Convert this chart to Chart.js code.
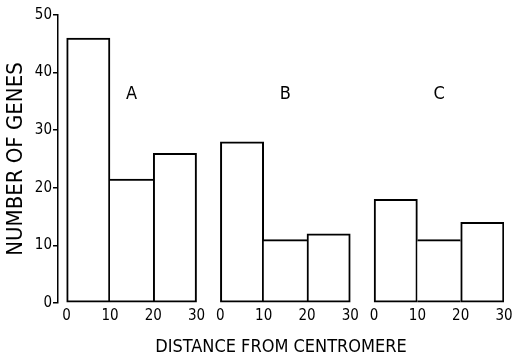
<!DOCTYPE html>
<html>
<head>
<meta charset="utf-8">
<script src="https://cdn.jsdelivr.net/npm/chart.js@4"></script>
<style>
  html, body { margin: 0; padding: 0; background: #fff; }
  #wrap { width: 513px; height: 357px; }
</style>
</head>
<body>
<div id="wrap"><canvas id="genesChart" width="513" height="357"></canvas></div>
<script>
// three histograms of gene counts by distance from the centromere
const panelNames = ['A', 'B', 'C'];
const binStarts = [0, 10, 20];
const binWidth = 10;
const xTickValues = [0, 10, 20, 30];
const xTickLabels = ['0', '10', '20', '30'];
const yTickValues = [0, 10, 20, 30, 40, 50];
const genesA = [46, 21.5, 26];
const genesB = [28, 11, 12];
const genesC = [18, 11, 14];

// layout: where each histogram sits on the shared x scale
const panelShift = [0, 35.5, 71];
const panelLabelAt = { x: 15, y: 36.3 };
const FONT = "'Liberation Sans Narrow', 'DejaVu Sans Condensed', 'Roboto Condensed', 'Liberation Sans', sans-serif";
const LINE = 2;

const panelCounts = [genesA, genesB, genesC];

// a shared edge between two bars is drawn once, by the taller bar
function edgeWidths(ctx) {
  const counts = panelCounts[ctx.datasetIndex];
  const i = ctx.dataIndex;
  const last = counts.length - 1;
  return {
    top: LINE,
    bottom: LINE,
    left: (i === 0 || counts[i] > counts[i - 1]) ? LINE : 0,
    right: (i === last || counts[i] >= counts[i + 1]) ? LINE : 0
  };
}

const datasets = panelCounts.map((counts, p) => ({
  label: panelNames[p],
  xAxisID: 'xBars',
  data: binStarts.map((s, i) => ({ x: panelShift[p] + s + binWidth / 2, y: counts[i] })),
  backgroundColor: '#fff',
  borderColor: '#000',
  borderSkipped: false,
  borderWidth: edgeWidths,
  grouped: false,
  barPercentage: 1,
  categoryPercentage: 1
}));

// tick values along the shared scale, e.g. 35.5 -> '0'
const xTicks = [];
const xTickText = {};
panelShift.forEach(shift => {
  xTickValues.forEach((v, i) => {
    xTicks.push(shift + v);
    xTickText[shift + v] = xTickLabels[i];
  });
});

const panelLabels = {
  id: 'panelLabels',
  afterDatasetsDraw(chart) {
    const { ctx, scales } = chart;
    ctx.save();
    ctx.font = '18px ' + FONT;
    ctx.fillStyle = '#000';
    ctx.textAlign = 'center';
    ctx.textBaseline = 'middle';
    panelNames.forEach((name, i) => {
      ctx.fillText(name,
        scales.xBars.getPixelForValue(panelShift[i] + panelLabelAt.x),
        scales.y.getPixelForValue(panelLabelAt.y));
    });
    ctx.restore();
  }
};

new Chart(document.getElementById('genesChart'), {
  type: 'bar',
  data: { datasets },
  plugins: [panelLabels],
  options: {
    responsive: false,
    animation: false,
    devicePixelRatio: 1,
    layout: { padding: { top: 15, right: 9, left: 0, bottom: 0 } },
    plugins: {
      legend: { display: false },
      tooltip: { enabled: false }
    },
    scales: {
      xBars: {
        type: 'linear',
        position: 'bottom',
        display: false,
        offset: false,
        min: -2,
        max: 101,
        afterBuildTicks: axis => { axis.ticks = []; }
      },
      x: {
        type: 'linear',
        position: 'bottom',
        offset: false,
        min: -2,
        max: 101,
        afterBuildTicks: axis => { axis.ticks = xTicks.map(v => ({ value: v })); },
        afterFit: axis => {
          axis.height = 54;
          // let the last "30" hang into the right margin
          axis.paddingLeft = 0;
          axis.paddingRight = 0;
        },
        grid: { display: false, drawTicks: false, offset: false },
        border: { display: false },
        ticks: {
          autoSkip: false,
          maxRotation: 0,
          padding: 4,
          color: '#000',
          font: { family: FONT, size: 15 },
          callback: value => xTickText[value]
        },
        title: {
          display: true,
          text: 'DISTANCE FROM CENTROMERE',
          color: '#000',
          font: { family: FONT, size: 18, lineHeight: 1 },
          padding: { top: 0, bottom: 1 }
        }
      },
      y: {
        min: 0,
        max: 50,
        afterBuildTicks: axis => { axis.ticks = yTickValues.map(v => ({ value: v })); },
        afterFit: axis => { axis.width = 58; },
        grid: { drawOnChartArea: false, drawTicks: true, tickLength: 5, color: '#000', lineWidth: 1.5 },
        border: { display: true, color: '#000', width: 1.5 },
        ticks: {
          padding: 1,
          color: '#000',
          font: { family: FONT, size: 15 }
        },
        title: {
          display: true,
          text: 'NUMBER OF GENES',
          color: '#000',
          font: { family: FONT, size: 22, lineHeight: 1 },
          padding: { top: 5, bottom: 0 }
        }
      }
    }
  }
});
</script>
</body>
</html>
